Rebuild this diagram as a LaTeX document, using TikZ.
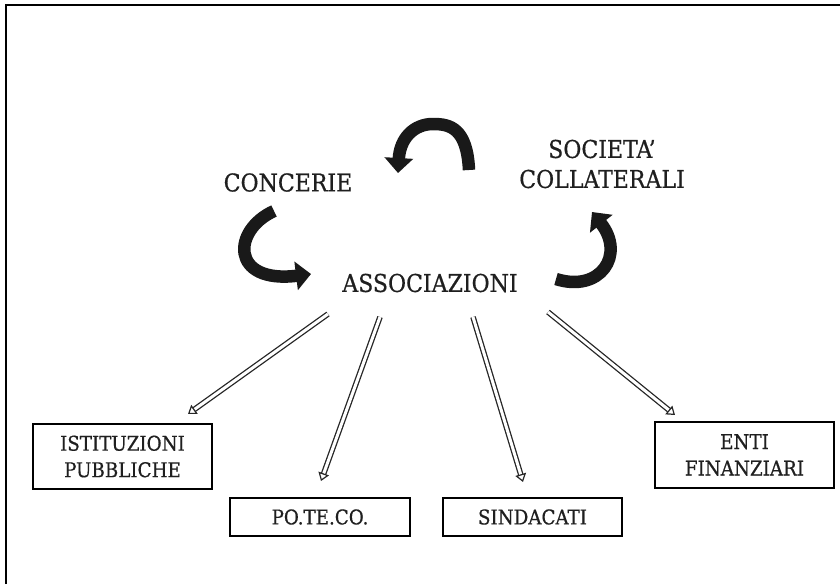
\documentclass[tikz,border=0pt]{standalone}
\usepackage{fontspec}
\setmainfont{DejaVu Serif Condensed}
\newfontfamily\heavyserif[FakeBold=0.6]{DejaVu Serif Condensed}
\usetikzlibrary{arrows.meta}
\begin{document}
\begin{tikzpicture}[x=1pt,y=-1pt,
  lbl/.style={inner sep=0pt, align=center, text=black!88, font=\heavyserif\fontsize{24.5}{30}\selectfont},
  boxnode/.style={draw, line width=1.2pt, inner sep=0pt, align=center, text=black!88,
     font=\heavyserif\fontsize{20.3}{26.5}\selectfont, minimum width=179pt},
  curvarrow/.style={line width=12.5pt, black!90, -{Triangle[length=15pt,width=28pt]}},
  hollowarrow/.style={double=white, double distance=3pt, line width=1.3pt, draw=black!85,
     -{Triangle[open, length=8pt, width=11pt, line width=1.2pt]}}
]
\useasboundingbox (0,0) rectangle (840,584);
% frame
\draw[line width=2pt] (6,584) -- (6,5) -- (840,5);

% labels
\node[lbl] (conc) at (288,182.5) {CONCERIE};
\node[lbl] (soc) at (602,164) {SOCIETA’\\COLLATERALI};
\node[lbl] (assoc) at (430,283) {ASSOCIAZIONI};

% boxes
\node[boxnode, minimum height=65pt] (ist) at (122.5,456.5) {ISTITUZIONI\\PUBBLICHE};
\node[boxnode, minimum height=38pt, minimum width=180pt] (poteco) at (320,517) {PO.TE.CO.};
\node[boxnode, minimum height=38pt] (sind) at (532.5,517) {SINDACATI};
\node[boxnode, minimum height=66pt] (enti) at (744.5,455) {ENTI\\FINANZIARI};

% curved arrows
\coordinate (t1) at (469,170);
\coordinate (t2) at (398,173);
\draw[curvarrow] (t1) .. controls (467,128) and (450,124) .. (433,124)
   .. controls (414,124) and (400,138) .. (t2);
\coordinate (l1) at (274,211);
\coordinate (l2) at (311,274);
\draw[curvarrow] (l1) .. controls (232,230) and (230,284) .. (l2);
\coordinate (r1) at (556,279);
\coordinate (r2) at (592,212);
\draw[curvarrow] (r1) .. controls (600,293) and (626,255) .. (r2);

% hollow arrows
\coordinate (s1) at (328,314);
\coordinate (e1) at (188,414);
\coordinate (s2) at (380,317);
\coordinate (e2) at (321,481);
\coordinate (s3) at (473,317);
\coordinate (e3) at (523,482);
\coordinate (s4) at (548,312);
\coordinate (e4) at (675,415);
\draw[hollowarrow] (s1) -- (e1);
\draw[hollowarrow] (s2) -- (e2);
\draw[hollowarrow] (s3) -- (e3);
\draw[hollowarrow] (s4) -- (e4);
\end{tikzpicture}
\end{document}
